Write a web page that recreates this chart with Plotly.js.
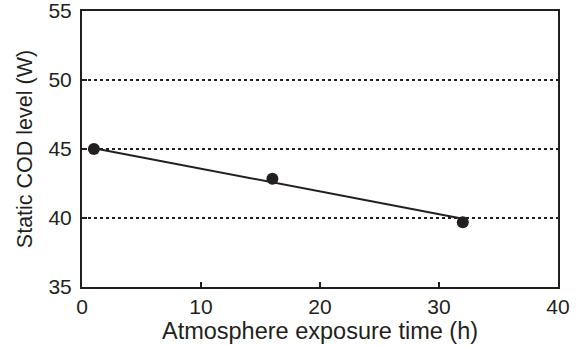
<!DOCTYPE html>
<html>
<head>
<meta charset="utf-8">
<script src="https://cdn.plot.ly/plotly-3.0.1.min.js"></script>
<style>html,body{margin:0;padding:0;background:#fff;}#chart{width:581px;height:346px;}</style>
</head>
<body>
<div id="chart"></div>
<script>
const exposureHours = [1, 16, 32];
const codLevel = [45.0, 42.85, 39.7];
const fitHours = [1, 32];
const fitLevel = [45.05, 39.95];
const xTicks = [0, 10, 20, 30, 40];
const yTicks = [35, 40, 45, 50, 55];

const ink = '#231f20';
const fam = 'Liberation Sans, Arial, sans-serif';
const tickFont = {family: fam, size: 21, color: ink};

const traces = [
  {x: fitHours, y: fitLevel, mode: 'lines', line: {color: ink, width: 2}, hoverinfo: 'skip'},
  {x: exposureHours, y: codLevel, mode: 'markers', marker: {color: ink, size: 12}}
];

const layout = {
  width: 581, height: 346,
  margin: {l: 82, r: 23, t: 11, b: 59},
  paper_bgcolor: '#fff', plot_bgcolor: '#fff',
  showlegend: false,
  font: tickFont,
  xaxis: {
    range: [0, 40], tickvals: xTicks, ticks: 'inside', ticklen: 5, tickwidth: 1.5, tickcolor: ink,
    showline: true, linecolor: ink, linewidth: 2, mirror: true, showgrid: false, zeroline: false,
    tickfont: tickFont, ticklabelstandoff: 0, ticklabeloverflow: 'allow',
    title: {text: 'Atmosphere exposure time (h)', font: {family: fam, size: 23.5, color: ink}, standoff: 2}
  },
  yaxis: {
    range: [35, 55], tickvals: yTicks, ticks: 'inside', ticklen: 5, tickwidth: 1.5, tickcolor: ink,
    showline: true, linecolor: ink, linewidth: 2, mirror: true,
    showgrid: true, gridcolor: ink, gridwidth: 1.5, griddash: 'dot', zeroline: false,
    tickfont: tickFont, ticklabelstandoff: 4, ticklabeloverflow: 'allow',
    title: {text: 'Static COD level (W)', font: {family: fam, size: 21.5, color: ink}, standoff: 10}
  }
};

Plotly.newPlot('chart', traces, layout, {displayModeBar: false, staticPlot: true});
</script>
</body>
</html>
